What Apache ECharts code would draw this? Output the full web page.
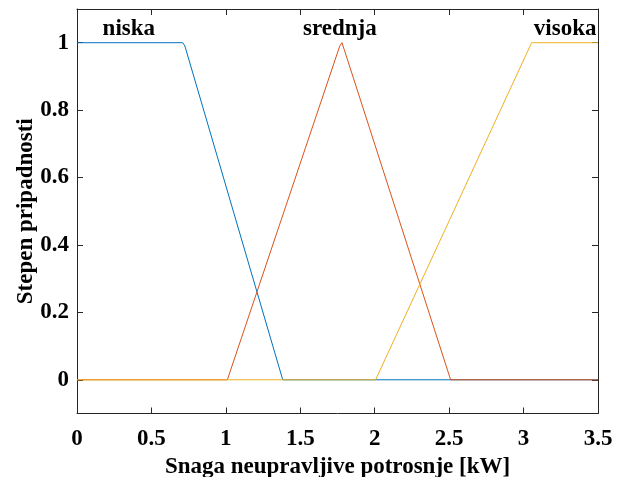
<!DOCTYPE html>
<html>
<head>
<meta charset="utf-8">
<script src="https://cdn.jsdelivr.net/npm/echarts@6/dist/echarts.min.js"></script>
<style>
  html, body { margin: 0; padding: 0; background: #fff; }
  #chart { width: 625px; height: 477px; }
</style>
</head>
<body>
<div id="chart"></div>
<script>
// Membership functions of the uncontrollable load power (trapezoid / triangle)
const niskaX   = [0, 0.71, 0.725, 1.382, 3.5];
const niskaY   = [1, 1, 0.99, 0, 0];
const srednjaX = [0, 1.01, 1.765, 1.78, 1.795, 2.51, 3.5];
const srednjaY = [0, 0, 0.99, 1, 0.98, 0, 0];
const visokaX  = [0, 2.006, 3.054, 3.5];
const visokaY  = [0, 0, 1, 1];

// Set names and where their captions sit
const setNames  = ['niska', 'srednja', 'visoka'];
const captionX  = [0.348, 1.766, 3.279];
const captionY  = [1.04, 1.04, 1.04];

const xTicks = [0, 0.5, 1, 1.5, 2, 2.5, 3, 3.5];
const yTicks = [0, 0.2, 0.4, 0.6, 0.8, 1];

const xName = 'Snaga neupravljive potrosnje [kW]';
const yName = 'Stepen pripadnosti';

const colors = ['#0072BD', '#D95319', '#EDB120'];
const FONT = 'Liberation Serif';
const AXIS_COLOR = '#262626';

function pairs(xs, ys) { return xs.map((x, i) => [x, ys[i]]); }
function fmt(v) { return String(Math.round(v * 10) / 10); }

const lineStyleBase = { width: 1 };

const chart = echarts.init(document.getElementById('chart'), null, { renderer: 'canvas' });

const textBase = { fontFamily: FONT, fontWeight: 'bold', fontSize: 23, color: '#000' };

function boxAxisLine() {
  return { show: true, onZero: false, lineStyle: { color: AXIS_COLOR, width: 1 } };
}
function boxTick(values) {
  const t = { show: true, inside: true, length: 6, lineStyle: { color: AXIS_COLOR, width: 1 } };
  if (values) t.customValues = values;
  return t;
}

chart.setOption({
  animation: false,
  backgroundColor: '#fff',
  grid: { left: 77, right: 27, top: 9, bottom: 63.5, containLabel: false, outerBoundsMode: 'none' },
  xAxis: [
    {
      type: 'value', min: 0, max: 3.5, interval: 0.5, position: 'bottom',
      name: xName, nameLocation: 'middle', nameGap: 42, nameMoveOverlap: false,
      nameTextStyle: Object.assign({}, textBase),
      axisLine: boxAxisLine(),
      axisTick: boxTick(xTicks),
      axisLabel: Object.assign({ margin: 14, formatter: v => fmt(v),
        customValues: xTicks }, textBase),
      splitLine: { show: false }
    },
    {
      type: 'value', min: 0, max: 3.5, interval: 0.5, position: 'top',
      axisLine: boxAxisLine(),
      axisTick: boxTick(xTicks),
      axisLabel: { show: false },
      splitLine: { show: false }
    }
  ],
  yAxis: [
    {
      type: 'value', min: -0.1, max: 1.1, position: 'left',
      name: yName, nameLocation: 'middle', nameGap: 39, nameRotate: 90,
      nameMoveOverlap: false,
      nameTextStyle: Object.assign({}, textBase),
      axisLine: boxAxisLine(),
      axisTick: boxTick(yTicks),
      axisLabel: Object.assign({ margin: 8, formatter: v => fmt(v),
        customValues: yTicks }, textBase),
      splitLine: { show: false }
    },
    {
      type: 'value', min: -0.1, max: 1.1, position: 'right',
      axisLine: boxAxisLine(),
      axisTick: boxTick(yTicks),
      axisLabel: { show: false },
      splitLine: { show: false }
    }
  ],
  series: [
    {
      name: setNames[0], type: 'line', data: pairs(niskaX, niskaY),
      showSymbol: false, symbol: 'none', color: colors[0],
      lineStyle: Object.assign({ color: colors[0] }, lineStyleBase)
    },
    {
      name: setNames[1], type: 'line', data: pairs(srednjaX, srednjaY),
      showSymbol: false, symbol: 'none', color: colors[1],
      lineStyle: Object.assign({ color: colors[1] }, lineStyleBase)
    },
    {
      name: setNames[2], type: 'line', data: pairs(visokaX, visokaY),
      showSymbol: false, symbol: 'none', color: colors[2],
      lineStyle: Object.assign({ color: colors[2] }, lineStyleBase)
    },
    {
      // captions naming each fuzzy set
      name: 'captions', type: 'scatter', silent: true,
      symbolSize: 0, data: [],
      markPoint: {
        symbol: 'circle', symbolSize: 0, silent: true,
        label: Object.assign({ show: true, position: 'inside',
          formatter: p => p.name }, textBase),
        data: setNames.map((n, i) => ({ name: n, coord: [captionX[i], captionY[i]] }))
      }
    }
  ]
});
</script>
</body>
</html>
